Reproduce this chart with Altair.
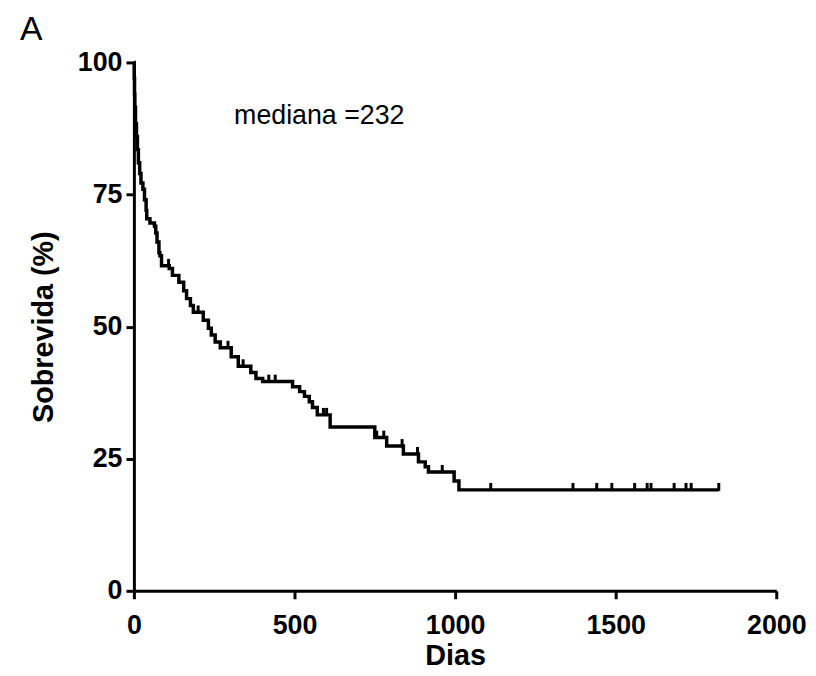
import altair as alt
import pandas as pd

# Kaplan-Meier step points (day, survival % after the step)
days = [0, 1, 2, 3, 5, 8, 11, 14, 18, 22, 28, 33, 38, 40, 50, 64, 68, 72, 78, 81, 86,
        110, 120, 140, 155, 164, 176, 185, 216, 232, 241, 253, 269, 303, 325, 364,
        380, 401, 494, 516, 531, 546, 556, 571, 611, 750, 787, 839, 886, 907, 917,
        997, 1012, 1821]
surv = [100, 97, 94, 91.5, 88.4, 86, 83.5, 81, 79, 77.2, 76, 74, 72, 70.4, 69.6, 69,
        67.7, 66, 64, 63.4, 61.5, 61, 59.7, 58.4, 56.8, 55.3, 54, 52.7, 51.2, 49.7,
        48.4, 47.1, 46, 44.3, 42.5, 41.3, 40.2, 39.6, 38.6, 37.7, 36.8, 35.8, 34.7,
        33.3, 31, 29, 27.4, 25.9, 24.4, 23.5, 22.5, 20.8, 19.1, 19.1]

# censored observations
censor_days = [108, 200, 293, 340, 420, 440, 590, 600, 756, 778, 835, 883, 960,
               1111, 1367, 1441, 1488, 1559, 1598, 1610, 1682, 1719, 1735, 1821]
censor_surv = [61.5, 52.7, 46, 42.5, 39.6, 39.6, 33.3, 33.3, 29, 29, 27.4, 25.9, 22.5,
               19.1, 19.1, 19.1, 19.1, 19.1, 19.1, 19.1, 19.1, 19.1, 19.1, 19.1]

x_ticks = [0, 500, 1000, 1500, 2000]
y_ticks = [0, 25, 50, 75, 100]

annot_text = ["mediana =232"]
annot_x = [312]
annot_y = [88.3]

panel_label = ["A"]

FONT = "Liberation Sans"

curve = pd.DataFrame({"dias": days, "sobrevida": surv})
cens = pd.DataFrame({"dias": censor_days, "sobrevida": censor_surv})
annot = pd.DataFrame({"dias": annot_x, "sobrevida": annot_y, "t": annot_text})
panel = pd.DataFrame({"t": panel_label})

xscale = alt.Scale(domain=[0, 2000], nice=False)
yscale = alt.Scale(domain=[0, 100], nice=False)

xaxis = alt.Axis(values=x_ticks, format="d", title="Dias", labelPadding=14, titlePadding=3,
                 labelFlush=False, labelOverlap=False)
yaxis = alt.Axis(values=y_ticks, format="d", title="Sobrevida (%)", labelPadding=4,
                 titlePadding=19, labelFlush=False, labelOverlap=False)

line = alt.Chart(curve).mark_line(interpolate="step-after", color="black",
                                  strokeWidth=3.5).encode(
    x=alt.X("dias:Q", scale=xscale, axis=xaxis),
    y=alt.Y("sobrevida:Q", scale=yscale, axis=yaxis),
)

ticks = alt.Chart(cens).mark_tick(orient="vertical", color="black", size=8, thickness=3,
                                  opacity=1, yOffset=-3).encode(
    x=alt.X("dias:Q", scale=xscale),
    y=alt.Y("sobrevida:Q", scale=yscale),
)

text = alt.Chart(annot).mark_text(align="left", baseline="alphabetic", font=FONT,
                                  fontSize=27, color="black").encode(
    x=alt.X("dias:Q", scale=xscale),
    y=alt.Y("sobrevida:Q", scale=yscale),
    text="t:N",
)

label_a = alt.Chart(panel).mark_text(align="left", baseline="alphabetic", font=FONT,
                                     fontSize=34, color="black").encode(
    x=alt.value(-115),
    y=alt.value(-23),
    text="t:N",
)

chart = alt.layer(line, ticks, text, label_a).properties(
    width=648,
    height=533,
    autosize=alt.AutoSizeParams(type="none"),
    padding={"left": 127, "top": 52, "right": 32, "bottom": 80},
).configure_view(stroke=None).configure_axis(
    grid=False,
    domainColor="black",
    domainWidth=3,
    tickColor="black",
    tickWidth=3,
    tickSize=8,
    labelFont=FONT,
    labelFontSize=27,
    labelFontWeight="bold",
    labelColor="black",
    titleFont=FONT,
    titleFontSize=29,
    titleFontWeight="bold",
    titleColor="black",
)

chart.save("out.html", embed_options={"renderer": "svg", "actions": False})
